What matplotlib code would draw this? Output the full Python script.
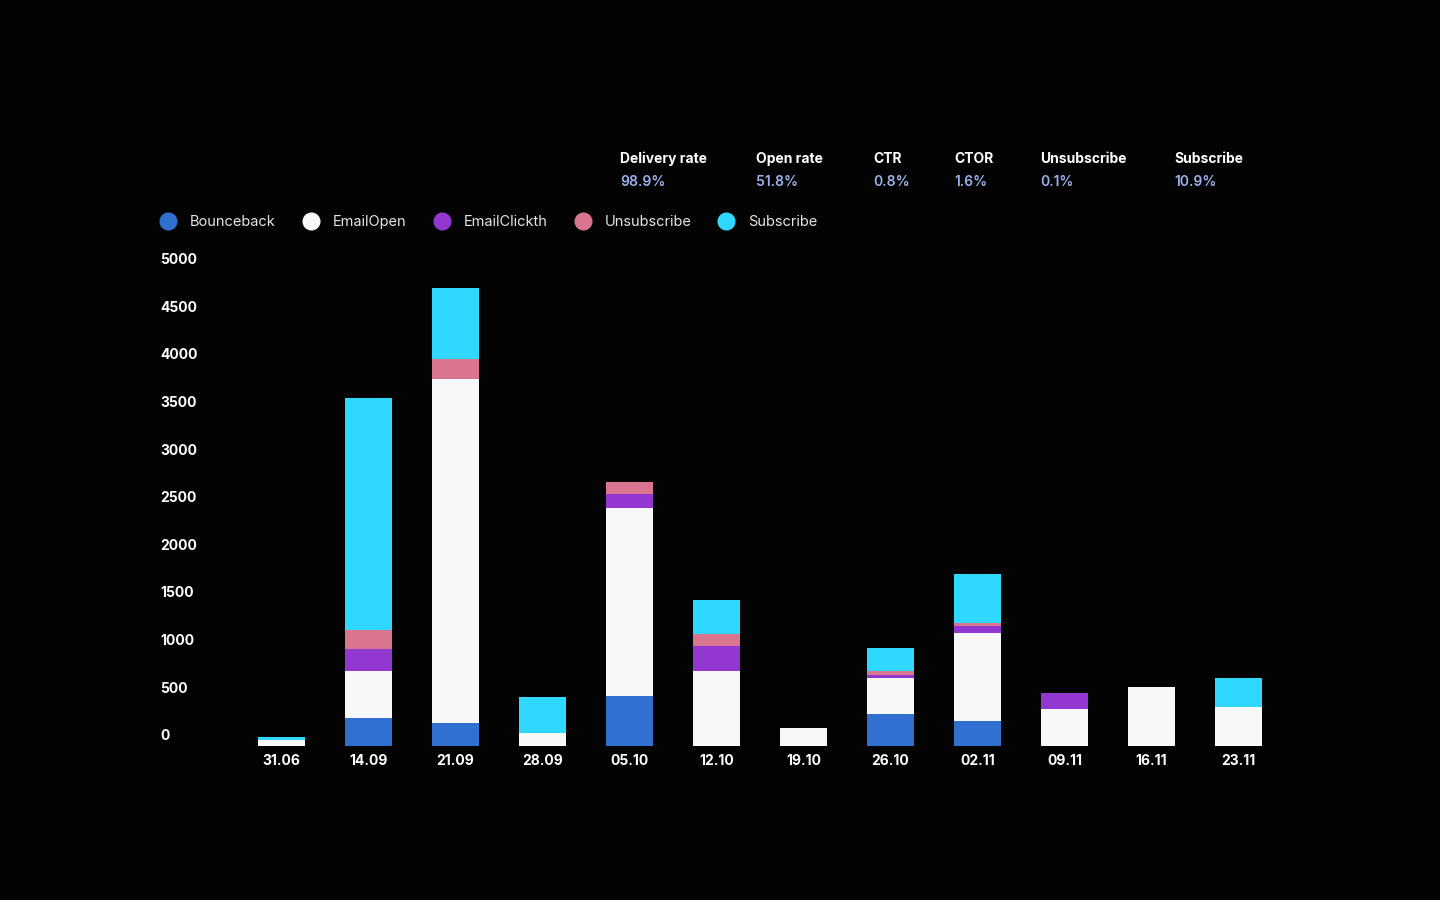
"""
Email campaign events per week, stacked bars on a dark background.
"""

import matplotlib
matplotlib.use("Agg")
import matplotlib.pyplot as plt
from matplotlib.lines import Line2D
from matplotlib.transforms import ScaledTranslation
import numpy as np

plt.rcParams['font.family'] = ['Inter', 'DejaVu Sans']

# data
dates = ["31.06", "14.09", "21.09", "28.09", "05.10", "12.10",
         "19.10", "26.10", "02.11", "09.11", "16.11", "23.11"]
bounceback = [0, 294, 235, 0, 518, 0, 0, 336, 255, 0, 0, 0]
email_open = [65, 490, 3617, 133, 1979, 785, 186, 375, 929, 389, 617, 402]
email_click = [0, 228, 0, 0, 147, 266, 0, 35, 69, 165, 0, 0]
unsubscribe = [0, 203, 210, 0, 126, 126, 0, 35, 36, 0, 0, 0]
subscribe = [30, 2434, 746, 378, 0, 357, 0, 246, 515, 0, 0, 312]

series_names = ["Bounceback", "EmailOpen", "EmailClickth", "Unsubscribe", "Subscribe"]
series_colors = ["#3070d0", "#f7f8fa", "#9238d0", "#d9758f", "#2ed8ff"]

stat_names = ["Delivery rate", "Open rate", "CTR", "CTOR", "Unsubscribe", "Subscribe"]
stat_values = ["98.9%", "51.8%", "0.8%", "1.6%", "0.1%", "10.9%"]

yticks = list(range(0, 5001, 500))

BG = "#030303"
W, H = 1440, 900

fig = plt.figure(figsize=(14.4, 9), dpi=100, facecolor=BG)
ax = fig.add_axes([230 / W, (H - 745.7) / H, 1050 / W, 476 / H])
ax.set_facecolor(BG)

x = np.arange(len(dates))
bottom = np.zeros(len(dates))
for vals, color in zip([bounceback, email_open, email_click, unsubscribe, subscribe], series_colors):
    vals = np.array(vals, dtype=float)
    ax.bar(x, vals, bottom=bottom, width=0.53, color=color, linewidth=0)
    bottom += vals

ax.set_xlim(-0.592, 11.477)
ax.set_ylim(0, 5000)
for s in ax.spines.values():
    s.set_visible(False)

ax.set_xticks(x)
ax.set_xticklabels(dates, fontsize=10, fontweight="bold", color="white")
ax.tick_params(axis="x", length=0, pad=6)

ax.set_yticks(yticks)
ax.set_yticklabels([str(v) for v in yticks], fontsize=10, fontweight="bold", color="white", ha="left")
ax.tick_params(axis="y", length=0, pad=50.4)
for lab in ax.get_yticklabels():
    lab.set_transform(lab.get_transform() + ScaledTranslation(0, 11 / 100, fig.dpi_scale_trans))

# legend row
leg_x = [168, 311, 442, 583, 726]
for name, color, lx in zip(series_names, series_colors, leg_x):
    fig.add_artist(Line2D([lx / W], [(H - 221) / H], marker="o", markersize=12,
                          color=color, linestyle="none", transform=fig.transFigure))
    fig.text((lx + 22) / W, (H - 222) / H, name, fontsize=10.5, color="#e4e4e4",
             va="center", ha="left")

# summary stats
stat_x = [620, 756, 873, 954, 1040, 1174]
for name, val, sx in zip(stat_names, stat_values, stat_x):
    fig.text(sx / W, (H - 159) / H, name, fontsize=10, fontweight="bold", color="white",
             va="center", ha="left")
    fig.text(sx / W, (H - 182) / H, val, fontsize=10, fontweight="semibold", color="#9db2ec",
             va="center", ha="left")

plt.savefig("out.png", dpi=100, facecolor=BG)
